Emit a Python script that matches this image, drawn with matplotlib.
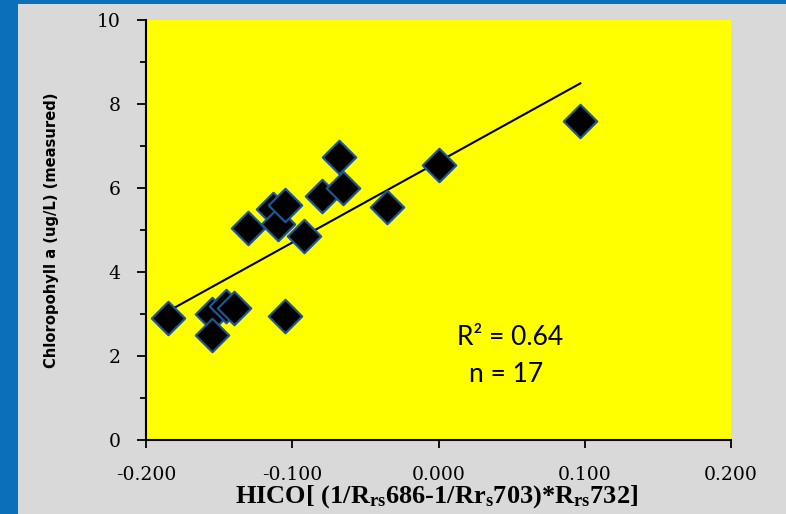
import numpy as np
import matplotlib
matplotlib.use("Agg")
import matplotlib.pyplot as plt
from matplotlib.patches import Rectangle
from matplotlib import font_manager as fm

# ---- data ----
hico = [-0.185, -0.155, -0.155, -0.145, -0.140, -0.130, -0.113, -0.110, -0.105,
        -0.105, -0.092, -0.080, -0.068, -0.065, -0.035, 0.000, 0.097]
chl = [2.90, 3.00, 2.50, 3.20, 3.15, 5.05, 5.50, 5.15, 5.60,
       2.95, 4.85, 5.80, 6.75, 6.00, 5.55, 6.55, 7.60]
x_ticks = [-0.2, -0.1, 0.0, 0.1, 0.2]
x_tick_labels = ["-0.200", "-0.100", "0.000", "0.100", "0.200"]
y_ticks = [0, 2, 4, 6, 8, 10]
stats_r2 = "R\u00b2 = 0.64"
stats_n = "n = 17"

plt.rcParams['mathtext.fontset'] = 'custom'
plt.rcParams['mathtext.rm'] = 'Liberation Serif:bold'
plt.rcParams['mathtext.bf'] = 'Liberation Serif:bold'
plt.rcParams['mathtext.it'] = 'Liberation Serif:bold'

# look for a condensed bold sans font for the y label
narrow_fp = None
for f in fm.fontManager.ttflist:
    if ('Narrow' in f.name or 'Condensed' in f.name or 'condensed' in str(f.stretch)
            or 'Condensed' in f.fname) and f.weight in (700, 'bold') \
            and 'Semi' not in f.fname and 'Extra' not in f.fname and 'Italic' not in f.fname:
        narrow_fp = fm.FontProperties(fname=f.fname)
        break
if narrow_fp is None:
    narrow_fp = fm.FontProperties(family='Liberation Sans', weight='bold')
avail = {f.name for f in fm.fontManager.ttflist}
calib = 'Lato' if 'Lato' in avail else 'DejaVu Sans'

W, H = 786, 514
fig = plt.figure(figsize=(W / 100, H / 100), dpi=100)
fig.patch.set_facecolor('#0B6FBA')
fig.patches.append(Rectangle((18 / W, 0), 1, (H - 4) / H, transform=fig.transFigure,
                             facecolor='#D9D9D9', edgecolor='none', zorder=-10))

ax = fig.add_axes([146 / W, (H - 440) / H, 585 / W, 420 / H])
ax.set_facecolor('#FFFF00')

ax.scatter(hico, chl, marker='D', s=17 ** 2, facecolor='black',
           edgecolor='#1F5590', linewidth=1.6, zorder=3)

coef = np.polyfit(hico, chl, 1)
xl = np.array([min(hico), max(hico)])
ax.plot(xl, np.polyval(coef, xl), color='black', lw=1.5, zorder=2)

ax.set_xlim(-0.2, 0.2)
ax.set_ylim(0, 10)
ax.set_xticks(x_ticks)
ax.set_xticklabels(x_tick_labels)
ax.set_yticks(y_ticks)
ax.set_yticks([1, 3, 5, 7, 9], minor=True)

for s in ['top', 'right']:
    ax.spines[s].set_visible(False)
for s in ['left', 'bottom']:
    ax.spines[s].set_linewidth(1.5)
    ax.spines[s].set_color('black')

ax.tick_params(axis='y', which='major', direction='out', length=6.5, width=1.3,
               pad=12, labelsize=13.5)
ax.tick_params(axis='y', which='minor', direction='out', length=4.3, width=1.3)
ax.tick_params(axis='x', which='major', direction='out', length=6, width=1.3,
               pad=13, labelsize=13.5)
for lab in ax.get_xticklabels() + ax.get_yticklabels():
    lab.set_fontfamily('DejaVu Serif')

ax.set_xlabel(r'HICO[ (1/R$_{\mathrm{rs}}$686-1/Rr$_{\mathrm{s}}$703)*R$_{\mathrm{rs}}$732]',
              fontfamily='Liberation Serif', fontweight='bold', fontsize=19,
              labelpad=0)
ax.xaxis.label.set_va('center')
ax.xaxis.set_label_coords(0.497, -0.1357)
ax.set_ylabel('Chloropohyll a (ug/L) (measured)', fontproperties=narrow_fp,
              fontsize=11.8)
ax.yaxis.set_label_coords(-0.149, 0.5)

ax.text(0.622, 0.243, stats_r2, transform=ax.transAxes, ha='center', va='center',
        fontsize=19, fontfamily=calib)
ax.text(0.615, 0.155, stats_n, transform=ax.transAxes, ha='center', va='center',
        fontsize=19, fontfamily=calib)

fig.savefig('out.png', dpi=100, facecolor=fig.get_facecolor())
